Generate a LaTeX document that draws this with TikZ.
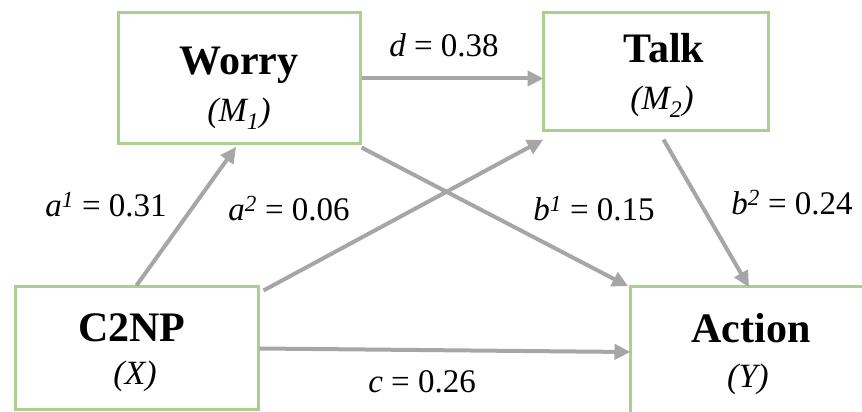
\documentclass[tikz,border=0pt]{standalone}
\usepackage{fontspec}
\setmainfont{Liberation Serif}
\usetikzlibrary{arrows.meta}
\definecolor{boxgreen}{RGB}{169,208,142}
\definecolor{arrowgray}{RGB}{166,166,166}
\tikzset{
  varbox/.style={draw=boxgreen, line width=3pt, fill=white, rectangle, inner sep=0pt},
  ttl/.style={anchor=base, inner sep=0pt, font=\fontsize{42}{48}\selectfont\bfseries},
  sym/.style={anchor=base, inner sep=0pt, font=\fontsize{34}{40}\selectfont\itshape},
  path/.style={draw=arrowgray, line width=4pt, -{Triangle[length=16pt,width=15pt]}, shorten >=-2pt},
  coef/.style={anchor=base, font=\fontsize{33}{38}\selectfont, inner sep=0pt}
}
\begin{document}
\begin{tikzpicture}[x=1pt,y=1pt]
\useasboundingbox (0,0) rectangle (862,412);
\node[varbox, minimum width=242pt, minimum height=131pt] (worry) at (239,333.5) {};
\node[varbox, minimum width=225pt, minimum height=118pt] (talk) at (655.5,340) {};
\node[varbox, minimum width=243pt, minimum height=123pt] (c2np) at (136.5,63.5) {};
\node[varbox, minimum width=240pt, minimum height=130pt] (action) at (750,60) {};

\node[ttl] (worryT) at (239,337) {Worry};
\node[sym] (worryS) at (239,290) {(M\textsubscript{1})};
\node[ttl] (talkT) at (664,349) {Talk};
\node[sym] (talkS) at (662,302) {(M\textsubscript{2})};
\node[ttl] (c2npT) at (132,70) {C2NP};
\node[sym] (c2npS) at (135,27) {(X)};
\node[ttl] (actionT) at (751,69) {Action};
\node[sym] (actionS) at (748,24) {(Y)};

\draw[path] (c2np.north) -- ([xshift=-4pt,yshift=-3pt]worry.south);
\draw[path] ([xshift=4pt,yshift=-5pt]c2np.north east) -- ([yshift=-8pt]talk.south west);
\draw[path] (worry.east) -- (worry.east -| talk.west);
\draw[path] ([yshift=-2pt]worry.south east) -- ([xshift=-2pt]action.north west);
\draw[path] ([xshift=8pt,yshift=-7pt]talk.south) -- ([xshift=-2pt]action.north);
\draw[path] (c2np.east) -- (action.west);

\node[coef] (la1) at (106,195) {\textit{a}\textsuperscript{\textit{1}} = 0.31};
\node[coef] (la2) at (289,191) {\textit{a}\textsuperscript{\textit{2}} = 0.06};
\node[coef] (lb1) at (594,191) {\textit{b}\textsuperscript{\textit{1}} = 0.15};
\node[coef] (lb2) at (792,197) {\textit{b}\textsuperscript{\textit{2}} = 0.24};
\node[coef] (ld) at (444,355) {\textit{d} = 0.38};
\node[coef] (lc) at (422,19) {\textit{c} = 0.26};
\end{tikzpicture}
\end{document}
